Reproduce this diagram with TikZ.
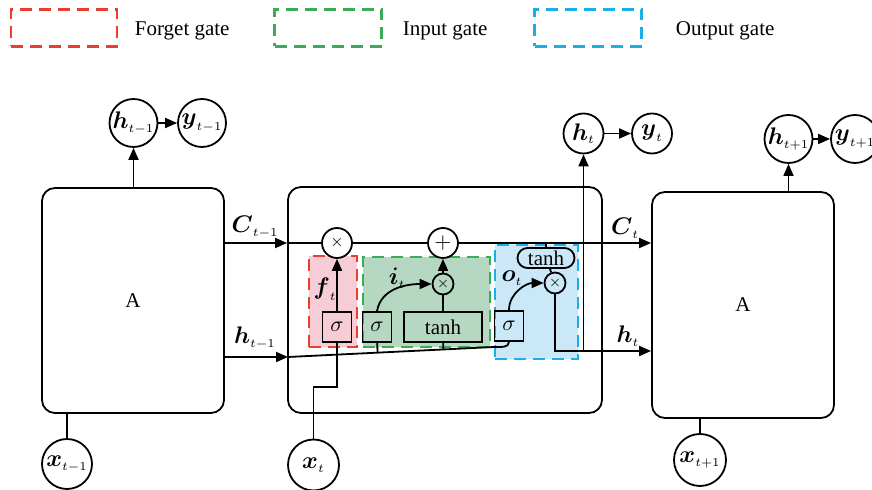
\documentclass[tikz,border=0pt]{standalone}
\usepackage{amsmath}
\usepackage{fontspec}
\setmainfont{Liberation Serif}
\usetikzlibrary{arrows.meta,calc}
\definecolor{fgate}{RGB}{234,62,46}
\definecolor{igate}{RGB}{58,172,88}
\definecolor{ogate}{RGB}{24,176,230}
\definecolor{fgatebg}{RGB}{246,204,214}
\definecolor{igatebg}{RGB}{182,216,194}
\definecolor{ogatebg}{RGB}{202,232,248}
\begin{document}
\begin{tikzpicture}[x=0.5pt, y=0.5pt, line width=0.9pt, font=\fontsize{10.5}{12}\selectfont,
	cell/.style={draw, rounded corners=6.5pt, minimum width=91pt, minimum height=112.5pt},
	var/.style={circle, draw, inner sep=0pt, minimum size=24pt, font=\fontsize{12}{14}\selectfont},
	op/.style={circle, draw, fill=white, inner sep=0pt, minimum size=15pt},
	mul/.style={circle, draw, inner sep=0pt, minimum size=10.5pt, font=\scriptsize},
	sig/.style={draw, inner sep=0pt, minimum width=14.5pt, minimum height=15pt},
	gate/.style={dash pattern=on 6pt off 3.5pt, line width=1.2pt, inner sep=0pt},
	arr/.style={-{Triangle[length=6pt, width=5pt]}},
	lbl/.style={inner sep=0pt},
	vlbl/.style={inner sep=0pt, font=\fontsize{12}{14}\selectfont}]
			\useasboundingbox (0,0) rectangle (872,-490);
			% legend
			\node[gate, draw=fgate, minimum width=53pt, minimum height=18.5pt] (legf) at (64,-28) {};
			\node[lbl, anchor=base west] (legft) at (134,-36) {Forget gate};
			\node[gate, draw=igate, minimum width=53.5pt, minimum height=18.5pt] (legi) at (328,-28) {};
			\node[lbl, anchor=base west] (legit) at (402,-36) {Input gate};
			\node[gate, draw=ogate, minimum width=53.5pt, minimum height=18.5pt] (lego) at (588,-28) {};
			\node[lbl, anchor=base west] (legot) at (675,-36) {Output gate};
			% cells
			\node[cell] (A1) at (133,-300.5) {A};
			\node[cell, minimum width=157pt, minimum height=113pt] (A2) at (445,-300) {};
			\node[cell, minimum height=113pt] (A3) at (743,-305) {A};
			% gates
			\node[gate, draw=fgate, fill=fgatebg, minimum width=24pt, minimum height=45.5pt] (gf) at (333,-301.5) {};
			\node[gate, draw=igate, fill=igatebg, minimum width=63.5pt, minimum height=45pt] (gi) at (426.5,-302) {};
			\node[gate, draw=ogate, fill=ogatebg, minimum width=41.5pt, minimum height=57pt] (go) at (536.5,-302) {};
			% inside the cell
			\node[op, font=\footnotesize] (fx) at (337,-243) {$\times$};
			\node[op] (add) at (443,-243) {$+$};
			\node[sig] (sf) at (337,-327) {$\sigma$};
			\node[sig] (si) at (377,-327) {$\sigma$};
			\node[sig, minimum width=39pt] (ti) at (443,-327) {tanh};
			\node[mul] (mi) at (443,-284) {$\times$};
			\node[sig] (so) at (509,-326) {$\sigma$};
			\node[draw, rounded corners=5pt, inner sep=0pt, minimum width=28.5pt, minimum height=10pt] (to) at (546,-258) {tanh};
			\node[mul] (mo) at (555,-283) {$\times$};
			% inputs and outputs
			\node[var] (h1) at (133.5,-123) {$\boldsymbol{h}_{\scriptscriptstyle t-1}$};
			\node[var] (y1) at (202,-123) {$\boldsymbol{y}_{\scriptscriptstyle t-1}$};
			\node[var, minimum size=25pt] (x1) at (67,-464) {$\boldsymbol{x}_{\scriptscriptstyle t-1}$};
			\node[var, minimum size=25.5pt] (xt) at (313.5,-465) {$\boldsymbol{x}_{\scriptscriptstyle t}$};
			\node[var, minimum size=20pt] (ht) at (583.5,-133.5) {$\boldsymbol{h}_{\scriptscriptstyle t}$};
			\node[var, minimum size=20pt] (yt) at (652,-133.5) {$\boldsymbol{y}_{\scriptscriptstyle t}$};
			\node[var] (htt) at (788.5,-139) {$\boldsymbol{h}_{\scriptscriptstyle t+1}$};
			\node[var] (ytt) at (855,-139) {$\boldsymbol{y}_{\scriptscriptstyle t+1}$};
			\node[var, minimum size=26pt] (xtt) at (700,-460) {$\boldsymbol{x}_{\scriptscriptstyle t+1}$};
			% labels
			\node[vlbl] (lc1) at (255,-227) {$\boldsymbol{C}_{\scriptscriptstyle t-1}$};
			\node[vlbl] (lh1) at (255,-338) {$\boldsymbol{h}_{\scriptscriptstyle t-1}$};
			\node[vlbl] (lf) at (325,-289) {$\boldsymbol{f}_{\scriptscriptstyle t}$};
			\node[vlbl] (li) at (397,-278) {$\boldsymbol{i}_{\scriptscriptstyle t}$};
			\node[vlbl] (lo) at (512,-278) {$\boldsymbol{o}_{\scriptscriptstyle t}$};
			\node[vlbl] (lct) at (625,-228) {$\boldsymbol{C}_{\scriptscriptstyle t}$};
			\node[vlbl] (lht) at (628,-336) {$\boldsymbol{h}_{\scriptscriptstyle t}$};
			\coordinate (hl) at (288,-357);
			\coordinate (hb) at (494,-347);
			\coordinate (hk) at (583.5,-351);
			\coordinate (xk) at (325,-387);
			% connectors
			\draw[arr] (h1 |- A1.north) -- (h1);
			\draw[arr] (h1) -- (y1);
			\draw (x1) -- (x1 |- A1.south);
			\draw[arr] (A1.east |- fx) -- (A2.west |- fx);
			\draw (A2.west |- fx) -- (fx);
			\draw (fx) -- (add);
			\draw[arr] (add) -- (A3.west |- add);
			\draw[arr] (A1.east |- hl) -- (hl);
			\draw (hl) -- (hb) to[out=0, in=-90] (so.south);
			\draw (si) -- ($(hl)!(si.south)!(hb)$);
			\draw (ti) -- ($(hl)!(ti.south)!(hb)$);
			\draw (xt) |- (xk) -| (sf);
			\draw[arr] (sf) -- (fx);
			\draw[arr] (si.north) to[out=80, in=180] (mi);
			\draw (ti) -- (mi);
			\draw[arr] (mi) -- (add);
			\draw (to) -- (to |- add);
			\draw (to) -- (mo);
			\draw[arr] (so.north) to[out=90, in=180] (mo);
			\draw[arr] (mo) |- (A3.west |- hk);
			\draw[arr] (hk) -- (ht);
			\draw[arr] (ht) -- (yt);
			\draw[arr] (htt |- A3.north) -- (htt);
			\draw[arr] (htt) -- (ytt);
			\draw (xtt) -- (xtt |- A3.south);
\end{tikzpicture}
\end{document}
